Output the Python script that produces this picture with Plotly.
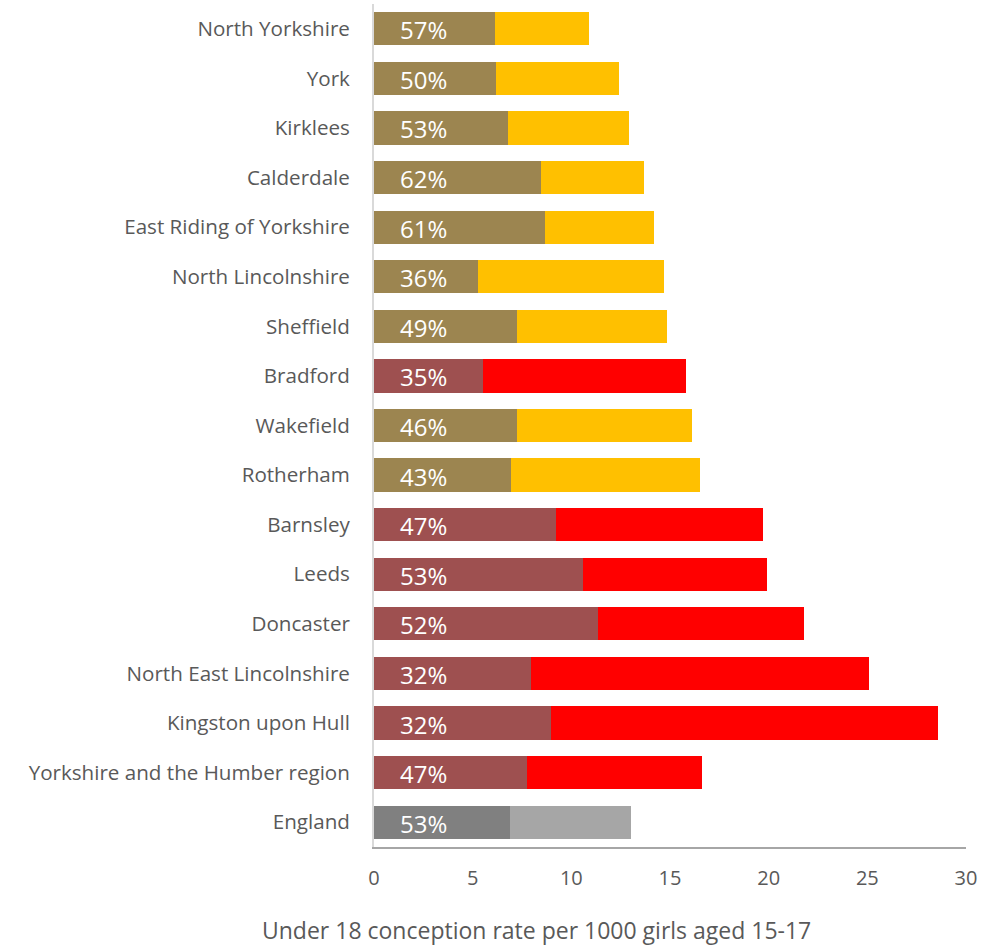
import plotly.graph_objects as go

areas = ["North Yorkshire", "York", "Kirklees", "Calderdale", "East Riding of Yorkshire",
         "North Lincolnshire", "Sheffield", "Bradford", "Wakefield", "Rotherham",
         "Barnsley", "Leeds", "Doncaster", "North East Lincolnshire", "Kingston upon Hull",
         "Yorkshire and the Humber region", "England"]
# portion of rate (darker segment) and remainder (lighter segment)
dark_part = [6.15, 6.2, 6.8, 8.45, 8.65, 5.25, 7.25, 5.5, 7.25, 6.95,
             9.2, 10.6, 11.35, 7.95, 8.95, 7.75, 6.9]
light_part = [4.75, 6.2, 6.1, 5.25, 5.55, 9.45, 7.6, 10.3, 8.85, 9.55,
              10.5, 9.3, 10.45, 17.15, 19.65, 8.85, 6.1]
pct_labels = ["57%", "50%", "53%", "62%", "61%", "36%", "49%", "35%", "46%", "43%",
              "47%", "53%", "52%", "32%", "32%", "47%", "53%"]
group = ["g", "g", "g", "g", "g", "g", "g", "r", "g", "g",
         "r", "r", "r", "r", "r", "r", "e"]

dark_col = {"g": "#9C8550", "r": "#9E5050", "e": "#808080"}
light_col = {"g": "#FFC000", "r": "#FF0000", "e": "#A6A6A6"}

x_ticks = [0, 5, 10, 15, 20, 25, 30]
x_title = "Under 18 conception rate per 1000 girls aged 15-17"

fig = go.Figure()
fig.add_trace(go.Bar(y=areas, x=dark_part, orientation="h",
                     marker=dict(color=[dark_col[g] for g in group], line_width=0),
                     hoverinfo="skip"))
fig.add_trace(go.Bar(y=areas, x=light_part, orientation="h",
                     marker=dict(color=[light_col[g] for g in group], line_width=0),
                     hoverinfo="skip"))

for a, t in zip(areas, pct_labels):
    fig.add_annotation(x=0, y=a, xref="x", yref="y", text=t, showarrow=False,
                       xanchor="left", xshift=24, yshift=-1,
                       font=dict(family="Open Sans", size=24, color="white"))

fig.add_annotation(x=0.275, y=0, xref="paper", yref="paper", yshift=-83,
                   text=x_title, showarrow=False, xanchor="center", yanchor="middle",
                   borderpad=0,
                   font=dict(family="Open Sans", size=23, color="#595959"))

fig.update_layout(
    barmode="stack",
    bargap=0.33,
    width=1007, height=948,
    margin=dict(l=374, r=41, t=4, b=101),
    plot_bgcolor="white", paper_bgcolor="white",
    showlegend=False,
    font=dict(family="Open Sans", color="#595959"),
)
fig.update_xaxes(range=[0, 30], tickvals=x_ticks, showgrid=False, zeroline=False,
                 showline=True, linecolor="#A6A6A6", linewidth=2,
                 tickfont=dict(size=20, color="#595959"), ticks="", ticklabelstandoff=12)
fig.update_yaxes(autorange="reversed", showgrid=False, zeroline=False,
                 showline=True, linecolor="#D9D9D9", linewidth=2,
                 tickfont=dict(size=20.6, color="#595959"), ticks="", ticklabelstandoff=18)

fig.write_html("out.html")
